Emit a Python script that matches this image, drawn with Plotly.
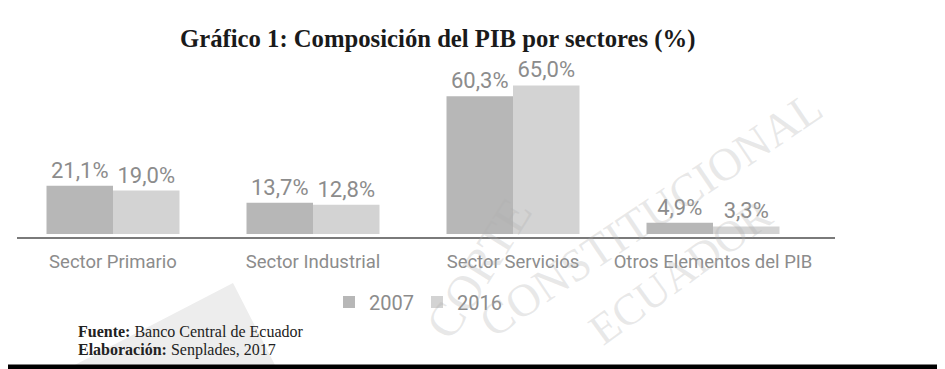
import plotly.graph_objects as go

categories = ["Sector Primario", "Sector Industrial", "Sector Servicios", "Otros Elementos del PIB"]
values_2007 = [21.1, 13.7, 60.3, 4.9]
values_2016 = [19.0, 12.8, 65.0, 3.3]
series_names = ["2007", "2016"]

def fmt(v):
    return f"{v:.1f}%".replace(".", ",")

SANS = "Roboto, Liberation Sans, sans-serif"
SERIF = "Liberation Serif, Times New Roman, serif"
GRAY_TXT = "#8c8c8c"

# the page body has an 8px margin: figure is shifted by 8px, so size it accordingly
OFF = 8
W, H = 945 - OFF, 369 - OFF
# plot area in reference pixels
PL, PR, PT, PB = 17, 835, 74, 237
L, R, T, B = PL - OFF, W - (PR - OFF), PT - OFF, H - (PB - OFF)

def px(x):
    return (x - PL) / (PR - PL)

def py(y):
    return (PB - y) / (PB - PT)

fig = go.Figure()
fig.add_trace(go.Bar(
    x=categories, y=values_2007, name=series_names[0],
    marker=dict(color="#b7b7b7", line=dict(width=0)),
    text=[fmt(v) for v in values_2007], textposition="outside",
    textfont=dict(family=SANS, size=22, color=GRAY_TXT), cliponaxis=False,
))
fig.add_trace(go.Bar(
    x=categories, y=values_2016, name=series_names[1],
    marker=dict(color="#d3d3d3", line=dict(width=0)),
    text=[fmt(v) for v in values_2016], textposition="outside",
    textfont=dict(family=SANS, size=22, color=GRAY_TXT), cliponaxis=False,
))

fig.update_layout(
    width=W, height=H,
    margin=dict(l=L, r=R, t=T, b=B, pad=0, autoexpand=False),
    paper_bgcolor="white", plot_bgcolor="white",
    barmode="group", bargap=0.335, bargroupgap=0,
    showlegend=True,
    legend=dict(orientation="h", x=px(329), xanchor="left", y=py(302), yanchor="middle",
                font=dict(family=SANS, size=20, color=GRAY_TXT),
                bgcolor="rgba(0,0,0,0)", itemwidth=30, tracegroupgap=0,
                entrywidth=43, entrywidthmode="pixels"),
    xaxis=dict(range=[-0.48, 3.61], showgrid=False, zeroline=False,
               showline=True, linecolor="#7a7a7a", linewidth=1.5,
               ticks="outside", ticklen=7, tickcolor="rgba(0,0,0,0)",
               tickfont=dict(family=SANS, size=18.5, color=GRAY_TXT)),
    yaxis=dict(range=[-1.3, 70], visible=False, showgrid=False, zeroline=False),
    font=dict(family=SANS),
)

# watermark (faint seal)
wm = "rgba(175,175,175,0.28)"
fig.add_shape(type="path", xref="paper", yref="paper",
              path=f"M {px(67)} {py(369)} L {px(233)} {py(283)} L {px(277)} {py(369)} Z",
              fillcolor="#ededed", line=dict(width=0), layer="below")
fig.add_annotation(text="CONSTITUCIONAL", xref="paper", yref="paper", x=px(650), y=py(214),
                   xanchor="center", yanchor="middle", showarrow=False, textangle=-34,
                   font=dict(family=SERIF, size=46, color=wm))
fig.add_annotation(text="CORTE", xref="paper", yref="paper", x=px(478), y=py(268),
                   xanchor="center", yanchor="middle", showarrow=False, textangle=-58,
                   font=dict(family=SERIF, size=48, color=wm))
fig.add_annotation(text="ECUADOR", xref="paper", yref="paper", x=px(680), y=py(272),
                   xanchor="center", yanchor="middle", showarrow=False, textangle=-36,
                   font=dict(family=SERIF, size=44, color=wm))

# title
fig.add_annotation(text="<b>Gráfico 1: Composición del PIB por sectores (%)</b>",
                   xref="paper", yref="paper", x=px(438), y=py(39),
                   xanchor="center", yanchor="middle", showarrow=False,
                   font=dict(family=SERIF, size=24.7, color="#1a1a1a"))

# source notes
fig.add_annotation(text="<b>Fuente:</b> Banco Central de Ecuador",
                   xref="paper", yref="paper", x=px(76), y=py(331),
                   xanchor="left", yanchor="middle", showarrow=False,
                   font=dict(family=SERIF, size=16, color="#222222"))
fig.add_annotation(text="<b>Elaboración:</b> Senplades, 2017",
                   xref="paper", yref="paper", x=px(76), y=py(350),
                   xanchor="left", yanchor="middle", showarrow=False,
                   font=dict(family=SERIF, size=16, color="#222222"))

# bottom black border
fig.add_shape(type="rect", xref="paper", yref="paper",
              x0=px(0), x1=px(945), y0=py(369), y1=py(364.5),
              fillcolor="black", line=dict(width=0))

fig.write_html("out.html")
